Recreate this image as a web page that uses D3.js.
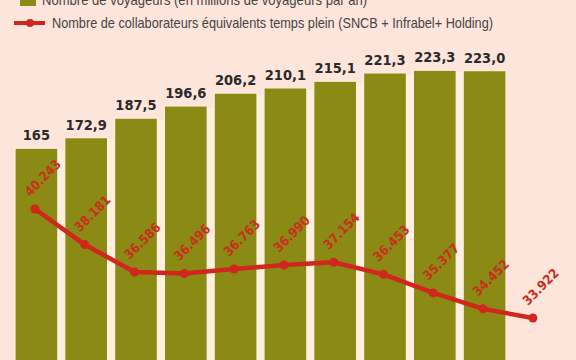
<!DOCTYPE html>
<html>
<head>
<meta charset="utf-8">
<script src="https://cdn.jsdelivr.net/npm/d3@7"></script>
<style>
  html, body { margin: 0; padding: 0; background: #fde5dc; }
  svg { display: block; }
</style>
</head>
<body>
<svg id="chart" width="576" height="360"></svg>
<script>
// ---- data ----
const periods = ["1", "2", "3", "4", "5", "6", "7", "8", "9", "10", "11"];
const passengers = [165, 172.9, 187.5, 196.6, 206.2, 210.1, 215.1, 221.3, 223.3, 223.0];
const passengerLabels = ["165", "172,9", "187,5", "196,6", "206,2", "210,1", "215,1", "221,3", "223,3", "223,0"];
const staff = [40243, 38181, 36586, 36496, 36763, 36990, 37154, 36453, 35377, 34452, 33922];
const legendLabels = [
  "Nombre de voyageurs (en millions de voyageurs par an)",
  "Nombre de collaborateurs équivalents temps plein (SNCB + Infrabel+ Holding)"
];

// ---- styles ----
const BG = "#fde5dc", CREAM = "#fdf0e0", OLIVE = "#8b8a14", RED = "#d0261d", LABELRED = "#c92f1f";
const FONT_NUM = "'DejaVu Sans Condensed', 'DejaVu Sans', sans-serif";
const FONT_LEG = "'Liberation Sans', Arial, sans-serif";
const legendWidths = [325, 441];

const svg = d3.select("#chart");
svg.append("rect").attr("width", 576).attr("height", 360).attr("fill", BG);

const x = d3.scaleBand().domain(periods).range([11.5, 11.5 + 49.8 * 11])
  .paddingInner(0.14).paddingOuter(0.07);
const yBar = d3.scaleLinear().domain([0, 250]).range([369, 34.5]);
const yLine = d3.scaleLinear().domain([30000, 45000]).range([385.6, 127]);

const barData = passengers.map((v, i) => ({ p: periods[i], v, label: passengerLabels[i] }));
const bw = x.bandwidth();
const step = x.step();

// cream gaps between bars
const gaps = barData.slice(0, -1).map((d, i) => ({ p: d.p, v: Math.min(d.v, barData[i + 1].v) }));
svg.append("g").selectAll("rect").data(gaps).join("rect")
  .attr("x", d => x(d.p) + bw)
  .attr("width", step - bw)
  .attr("y", d => yBar(d.v) + 2)
  .attr("height", d => yBar(0) - yBar(d.v))
  .attr("fill", CREAM);

// bars
svg.append("g").selectAll("rect").data(barData).join("rect")
  .attr("x", d => x(d.p))
  .attr("width", bw)
  .attr("y", d => yBar(d.v))
  .attr("height", d => yBar(0) - yBar(d.v))
  .attr("fill", OLIVE)
  .attr("stroke", CREAM)
  .attr("stroke-width", 1.2);

// bar labels
svg.append("g").selectAll("text").data(barData).join("text")
  .attr("x", d => x(d.p) + bw / 2)
  .attr("y", d => yBar(d.v) - 8)
  .attr("text-anchor", "middle")
  .attr("font-family", FONT_NUM)
  .attr("font-weight", "bold")
  .attr("font-size", 14.5)
  .attr("fill", "#2a2a2a")
  .text(d => d.label);

// line
const loc = d3.formatLocale({ decimal: ",", thousands: ".", grouping: [3], currency: ["", "€"] });
const fmt = loc.format(",d");
const lineData = staff.map((v, i) => ({ p: periods[i], v }));
const cx = d => x(d.p) + bw / 2 - 1.5;

svg.append("path")
  .datum(lineData)
  .attr("fill", "none")
  .attr("stroke", RED)
  .attr("stroke-width", 4.5)
  .attr("stroke-linejoin", "round")
  .attr("d", d3.line().x(cx).y(d => yLine(d.v)));

svg.append("g").selectAll("circle").data(lineData).join("circle")
  .attr("cx", cx)
  .attr("cy", d => yLine(d.v))
  .attr("r", 4.5)
  .attr("fill", RED);

svg.append("g").selectAll("text").data(lineData).join("text")
  .attr("transform", d => `translate(${cx(d) - 5},${yLine(d.v) - 12}) rotate(-45)`)
  .attr("font-family", FONT_NUM)
  .attr("font-weight", "bold")
  .attr("font-size", 13)
  .attr("fill", LABELRED)
  .text(d => fmt(d.v));

// legend
const leg = svg.append("g");
leg.append("rect").attr("x", 20).attr("y", -10).attr("width", 16).attr("height", 16).attr("fill", OLIVE);
leg.append("line").attr("x1", 14).attr("x2", 45).attr("y1", 23).attr("y2", 23)
  .attr("stroke", RED).attr("stroke-width", 4);
leg.append("circle").attr("cx", 30).attr("cy", 23).attr("r", 4).attr("fill", RED);
leg.selectAll("text.leg").data(legendLabels).join("text")
  .attr("class", "leg")
  .attr("x", (d, i) => i === 0 ? 42 : 52)
  .attr("y", (d, i) => 5 + i * 23)
  .attr("font-family", FONT_LEG)
  .attr("font-size", 15)
  .attr("textLength", (d, i) => legendWidths[i])
  .attr("lengthAdjust", "spacingAndGlyphs")
  .attr("fill", "#444")
  .text(d => d);
</script>
</body>
</html>
